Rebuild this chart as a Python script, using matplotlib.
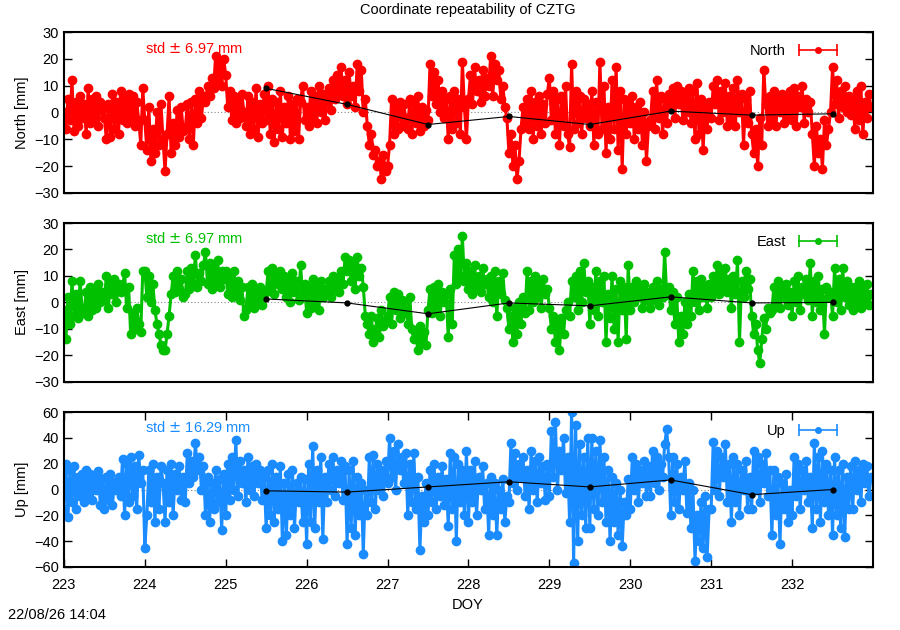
import numpy as np
import matplotlib

matplotlib.use("Agg")
import matplotlib.pyplot as plt
from matplotlib.lines import Line2D
from matplotlib.legend_handler import HandlerLine2D, HandlerTuple

plt.rcParams["font.family"] = ["Liberation Sans", "DejaVu Sans"]

# samples every 0.025 day starting at DOY 223.0 (10 per quarter day)
doy_start = 223.0
doy_step = 0.025

north = [
    0, -6, 5, -3, 12, -7, 4, -5, 6, -2,
    3, -8, 9, -4, 5, -3, 6, -5, 4, 1,
    -2, -10, 3, -9, 7, -6, 4, -8, 8, -3,
    5, -4, 7, -2, 6, -5, 4, -3, -12, 9,
    -3, -14, 2, -18, -6, -15, 0, -12, 3, -10,
    -22, -8, 6, -15, -4, -12, 1, -9, 2, -7,
    -6, 3, -10, 4, -12, 5, -4, 8, -2, 6,
    4, 10, 6, 13, 9, 21, 12, 18, 10, 20,
    14, 2, 8, -3, 6, -4, 5, -2, 7, 0,
    -5, 6, -8, 4, -6, 9, -9, 3, -4, 7,
    -3, 10, -8, 5, -11, 4, -6, 8, -9, 2,
    -4, 6, -10, 3, -7, 5, -10, 4, 10, -3,
    2, -5, 8, -2, 6, -4, 10, 0, 7, -3,
    4, 9, 1, 12, 5, 14, 8, 17, 6, 12,
    3, 15, 6, 10, 2, 18, 8, 16, 0, 5,
    -5, -12, -8, -16, -14, -20, -18, -25, -16, -22,
    -20, -12, 5, -8, 2, -6, 4, -5, 3, -2,
    -6, 5, -8, 3, -4, 6, -7, 2, -5, 1,
    -3, 18, 6, 15, 3, 12, 0, 8, -2, 5,
    -10, 6, -6, 8, -4, 5, -8, 19, 2, -10,
    5, 14, 3, 17, 8, 12, 4, 16, 6, 13,
    10, 21, 6, 18, 12, 16, 5, 10, 2, -2,
    -15, -8, -20, -12, -25, -18, -6, 2, -4, 5,
    -6, 8, -10, 4, -5, 6, -8, 3, -4, 7,
    13, -3, 8, -8, 5, -12, 6, -5, 10, -8,
    -13, 18, -6, 8, -4, 6, -8, 5, -2, 3,
    -5, 8, -12, 4, -8, 19, -6, 10, -15, 2,
    -10, 12, -6, 17, -14, 8, -21, 5, -8, 3,
    -4, 6, -10, 2, -6, 4, -12, 0, -18, -5,
    -3, 8, -6, 12, -2, 6, -8, 5, -4, 7,
    2, 9, -2, 10, 3, 8, -3, 6, 0, 9,
    -4, 8, -10, 11, -8, 5, -14, 2, -6, 4,
    -2, 10, 3, 12, -3, 8, 0, 11, -5, 6,
    -3, 9, -5, 12, 0, 7, -12, 5, -4, 8,
    -8, -15, -6, -20, -2, -12, 16, 3, -5, 6,
    -3, 8, -5, 6, 0, 7, -4, 5, -2, 8,
    -3, 9, -5, 6, 2, 10, -4, 5, 0, 4,
    -8, -20, -5, -15, -10, -21, -3, -12, -6, 0,
    17, 3, 12, -2, 8, 2, 10, 0, 6, -1,
    5, -6, 8, -3, 10, -8, 4, -2, 7, 2,
]

east = [
    -3, -14, 2, -8, 8, -5, 3, -6, 8, -2,
    -4, 4, -5, 6, -3, 5, -2, 7, 0, 4,
    1, 10, -2, 8, 3, 9, 0, 7, 4, 6,
    11, -2, 6, -12, -4, -10, -2, -8, -11, 12,
    12, 2, 10, 0, 7, -3, -8, -12, -16, -18,
    -18, -12, -5, 3, 10, 4, 12, 5, 9, 2,
    3, 12, 5, 13, 7, 18, 6, 11, 8, 14,
    19, 7, 15, 5, 13, 8, 16, 6, 12, 9,
    12, 3, 10, 2, 12, 4, 8, 1, 6, -5,
    -3, 6, 0, 7, -2, 5, 1, 6, -1, 4,
    4, 12, 6, 13, 3, 11, 7, 12, 5, 10,
    2, 9, 0, 11, 4, 8, 1, 14, 3, 7,
    -4, 6, -2, 9, 0, 7, -3, 8, 2, 5,
    3, 8, 2, 10, 5, 9, 4, 12, 7, 17,
    12, 16, 8, 14, 5, 17, 10, 13, 6, -5,
    -8, -12, -5, -15, -10, -6, -13, -3, -9, -7,
    -5, 2, -8, 4, -3, 3, -6, 1, -4, 0,
    -8, 2, -10, -14, -12, -18, -9, -15, -11, -16,
    -3, 5, -4, 6, -2, 7, -5, 4, 0, 3,
    -13, 5, -8, 18, 7, 20, 10, 25, 8, 15,
    5, 12, 3, 14, 6, 10, 4, 13, 7, 9,
    2, 10, 0, 12, -5, 8, 3, 11, 1, -2,
    -10, -5, -15, -2, -12, 0, -8, 2, -4, 12,
    -3, 8, 0, 10, 2, 7, -2, 9, 3, 5,
    -2, -10, -5, -15, -8, -18, -6, -12, -3, 0,
    -5, 8, 2, 10, -3, 12, 0, 15, 4, 8,
    -8, 6, -3, 12, -5, 8, 0, 10, -15, 3,
    -6, 10, -10, 5, -15, 8, -3, 6, -14, 14,
    -3, 6, 0, 8, 2, 5, -2, 7, 1, 4,
    -2, 6, 1, 8, -1, 5, 2, 19, 3, 6,
    -3, 4, -8, 2, -15, -5, -12, 0, -8, 3,
    -5, 12, 0, 8, -3, 9, 2, 6, -2, 7,
    2, 10, 5, 14, 3, 11, 6, 13, 4, 9,
    -2, 10, 3, 16, -15, 8, 2, 12, 5, 9,
    -5, -12, -8, -18, -23, -14, -6, -10, -2, -4,
    -3, 6, 0, 8, -2, 5, 2, 7, -1, 4,
    -5, 8, 0, 10, -3, 6, 3, 9, 1, 15,
    -5, 8, 0, 10, -3, 5, -12, 6, 2, 4,
    -5, 13, 0, 9, -3, 13, 2, 8, -1, 6,
    -3, 6, 0, 8, -2, 5, 1, 7, -1, 3,
]

up = [
    -15, 20, -21, 15, -10, 18, -15, 10, -5, 12,
    -10, 15, -5, 12, -8, 10, 0, 14, -12, 8,
    -15, 10, -8, 12, -12, 6, 0, 10, -5, 24,
    -20, 20, -10, 25, -5, 18, -15, 27, 5, 15,
    -45, -20, 15, -10, 20, -25, 10, -15, 18, 5,
    -25, 15, -10, 20, -20, 12, 0, 18, -8, 10,
    -10, 28, 5, 22, 10, 36, 15, 25, 0, 18,
    -20, 10, -25, 5, -15, 15, -10, 8, -31, 12,
    -20, 20, -8, 25, 0, 38, -5, 22, 5, 15,
    -10, 25, 0, 18, -5, 20, 5, 15, -8, 10,
    -30, 15, -20, 20, -25, 10, -15, 18, -40, 5,
    -35, 12, -20, 15, -30, 5, -10, 10, -25, 8,
    -42, 20, -25, 34, -30, 15, -10, 25, -38, 10,
    -10, 20, 0, 25, -5, 15, 5, 22, -8, 18,
    -42, 15, -30, 22, -35, 10, -20, 5, -50, 0,
    -20, 25, -10, 27, -15, 20, 0, 15, -5, 22,
    5, 40, 10, 30, 0, 35, 15, 25, 5, 28,
    -20, 20, -10, 28, -15, 10, -47, -5, -25, 5,
    -20, 15, -10, 20, -15, 10, -5, 18, -12, 8,
    -28, 28, -15, 25, -40, 20, -10, 15, -20, 30,
    -25, 15, -10, 22, -20, 10, 0, 18, -15, 5,
    -35, 10, -20, 5, -35, 0, -15, 8, -25, -5,
    -10, 36, 5, 28, 0, 20, 10, 25, -5, 15,
    -15, 30, 0, 22, -10, 25, 5, 18, -8, 20,
    -5, 45, 10, 52, 0, 30, 15, 40, -3, 25,
    -25, 60, -57, 50, -40, 35, -20, 25, -30, 40,
    -30, 40, -15, 30, -20, 38, -10, 25, -25, 15,
    -40, 10, -25, 5, -35, 0, -44, -10, -20, 8,
    -15, 25, 0, 20, -10, 15, 5, 22, -5, 18,
    -5, 30, 5, 25, 0, 20, 10, 35, 47, 25,
    -20, 25, -10, 20, -15, 10, 0, 22, -18, 5,
    -30, 0, -55, -20, -40, -10, -45, -5, -52, -15,
    -15, 37, 0, 30, -5, 25, 10, 35, -10, 20,
    -25, 25, -10, 20, -20, 15, 0, 22, -15, 10,
    -15, 30, 0, 25, -10, 20, 5, 28, -5, 15,
    -35, 15, -20, 10, -42, 5, -15, 12, -25, 0,
    -20, 25, -5, 20, -15, 15, 0, 22, -10, 10,
    -30, 36, -15, 25, -25, 30, -10, 20, -20, 15,
    -35, 25, -20, 15, -30, 20, -37, 10, -15, 18,
    -15, 22, 0, 15, -10, 20, 5, 18, -5, 10,
]

# daily solutions (black)
daily_doy = [225.5, 226.5, 227.5, 228.5, 229.5, 230.5, 231.5, 232.5]
daily_north = [9, 3, -4.5, -1.5, -4.5, 0.5, -1, -0.5]
daily_east = [1.3, -0.2, -4.3, -0.2, -1.3, 2.1, -0.2, 0]
daily_up = [-1, -2, 2, 6, 2, 7.4, -4, 0]

panels = [
    ("North", north, daily_north, "#ff0000", "std $\\pm$ 6.97 mm", 30, 10),
    ("East", east, daily_east, "#00c000", "std $\\pm$ 6.97 mm", 30, 10),
    ("Up", up, daily_up, "#1a8cff", "std $\\pm$ 16.29 mm", 60, 20),
]
xticks = list(range(223, 233))

fig = plt.figure(figsize=(9, 6.3), dpi=100)
boxes = [
    (0.071, 0.694, 0.899, 0.255),
    (0.071, 0.394, 0.899, 0.252),
    (0.071, 0.100, 0.899, 0.246),
]

for i, (name, values, daily, color, std_text, lim, step) in enumerate(panels):
    ax = fig.add_axes(boxes[i])
    doy = doy_start + doy_step * np.arange(len(values))
    ax.axhline(0, color="#888888", lw=0.8, ls=(0, (1, 2)), zorder=1)
    ax.plot(doy, values, color=color, lw=2.2, marker="o", ms=6,
            mec=color, mfc=color, zorder=2)
    ax.plot(daily_doy, daily, color="black", lw=0.8, marker="o", ms=3.5, zorder=3)

    ax.set_xlim(223, 233)
    ax.set_ylim(-lim, lim)
    ax.set_yticks(np.arange(-lim, lim + 1, step))
    ax.set_ylabel(f"{name} [mm]", fontsize=10.5, labelpad=4)
    ax.tick_params(axis="y", direction="in", length=6, width=1, right=True,
                   labelsize=10.5)
    if i == 2:
        ax.set_xticks(xticks)
        ax.tick_params(axis="x", direction="in", length=6, width=1, top=True,
                       labelsize=10.5, pad=8)
    else:
        ax.set_xticks([])
    for s in ax.spines.values():
        s.set_linewidth(1.5)

    ax.text(0.1, 0.9, std_text, color=color, fontsize=10.5,
            transform=ax.transAxes, va="center", ha="left")

    caps = Line2D([], [], color=color, lw=1.2, marker="|", ms=8, mew=1.2)
    dot = Line2D([], [], color=color, lw=0, marker="o", ms=4)
    ax.legend([(caps, dot)], [name], loc="upper right", frameon=False,
              fontsize=10.5, markerfirst=False, handlelength=3.2,
              borderaxespad=0.4, handletextpad=0.6,
              bbox_to_anchor=(0.975, 1.0),
              handler_map={caps: HandlerLine2D(numpoints=2),
                           dot: HandlerLine2D(numpoints=1),
                           tuple: HandlerTuple(ndivide=1)})

fig.text(0.52, 0.984, "Coordinate repeatability of CZTG", ha="center",
         va="center", fontsize=10.5)
fig.text(0.52, 0.04, "DOY", ha="center", va="center", fontsize=10.5)
fig.text(0.009, 0.012, "22/08/26 14:04", ha="left", va="bottom", fontsize=10.5)

fig.savefig("out.png", dpi=100)
